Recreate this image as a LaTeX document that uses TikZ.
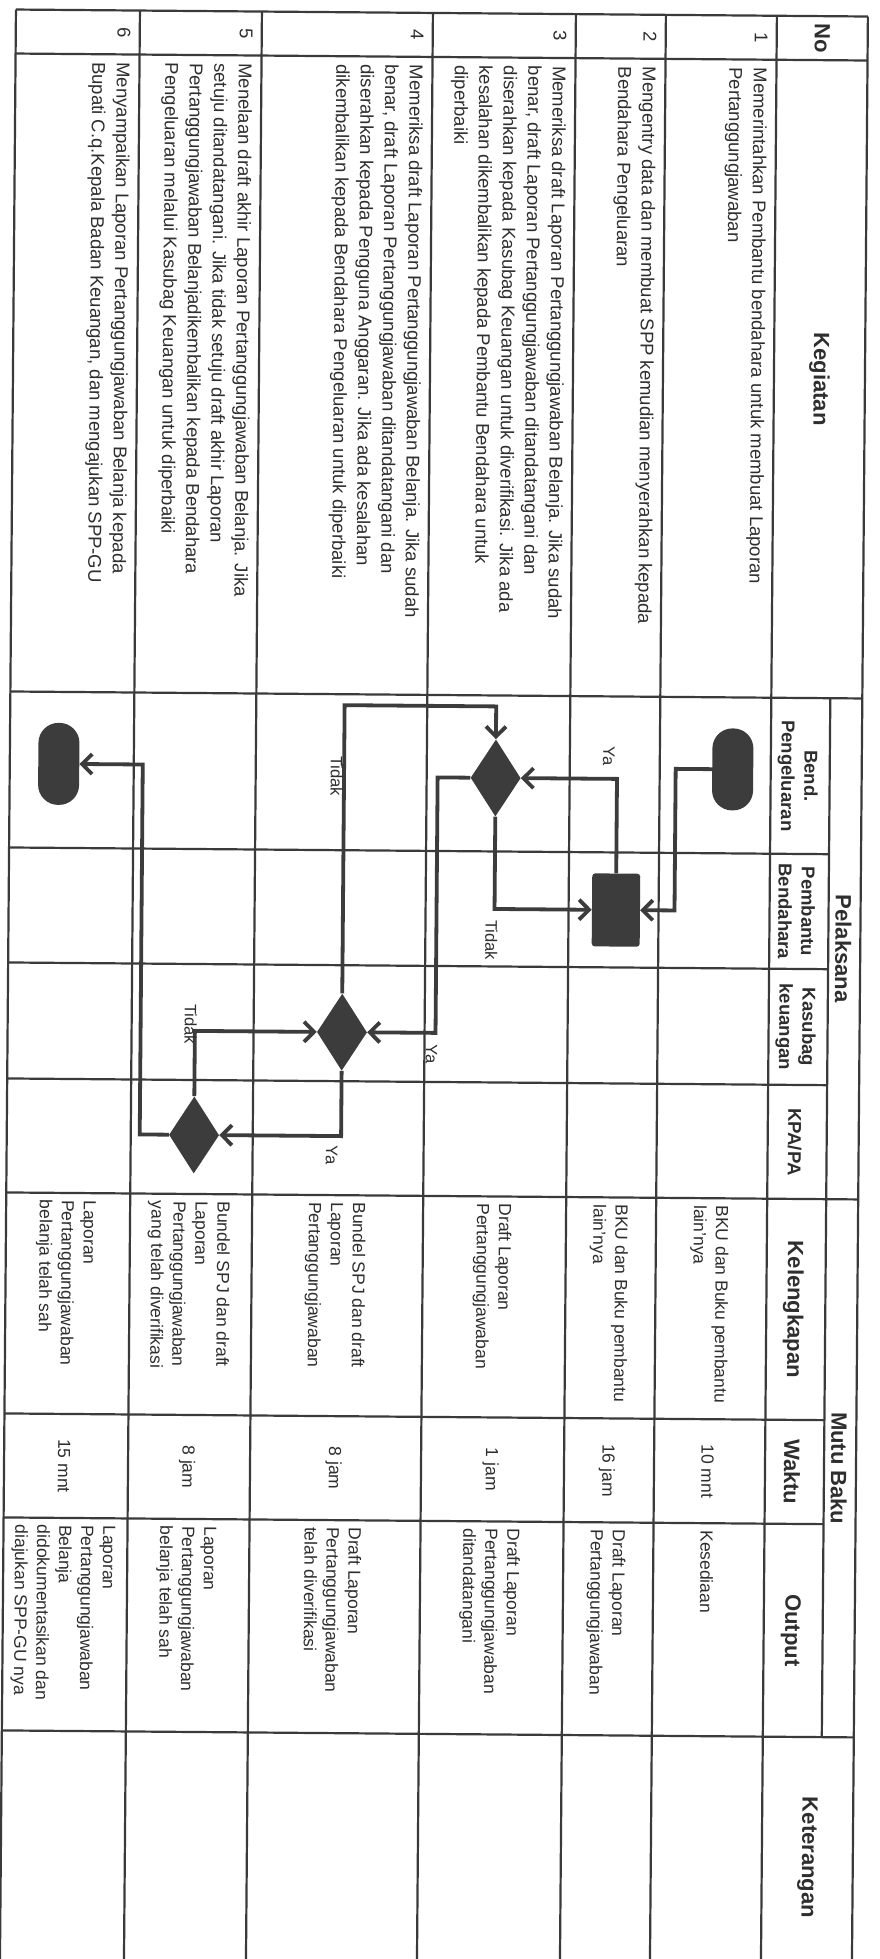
\documentclass[tikz,border=0pt]{standalone}
\usepackage{fontspec}
\setmainfont{Liberation Sans}
\usetikzlibrary{shapes.geometric,arrows.meta}
\definecolor{ink}{HTML}{2E2E2E}
\definecolor{rule}{HTML}{3A3A3A}
\definecolor{blob}{HTML}{3C3C3C}
\begin{document}
\begin{tikzpicture}[x=1pt,y=1pt,
  tabline/.style={line width=2.2pt, draw=rule},
  kegtext/.style={rotate=-90, anchor=north west, inner sep=0pt, align=left, text=ink, font=\fontsize{18.5}{24.5}\selectfont},
  mututext/.style={rotate=-90, anchor=west, inner sep=0pt, align=left, text=ink, font=\fontsize{17.5}{22}\selectfont},
  waktutext/.style={rotate=-90, anchor=center, inner sep=0pt, text=ink, font=\fontsize{17.5}{22}\selectfont},
  numtext/.style={rotate=-90, anchor=north, inner sep=0pt, text=ink, font=\fontsize{18.5}{24.5}\selectfont},
  head/.style={rotate=-90, anchor=center, inner sep=0pt, align=center, text=ink, font=\bfseries\fontsize{22}{26}\selectfont},
  subhead/.style={rotate=-90, anchor=center, inner sep=0pt, align=center, text=ink, font=\bfseries\fontsize{18.5}{23}\selectfont},
  lbl/.style={rotate=-90, anchor=center, inner sep=0pt, text=ink, font=\fontsize{16.5}{20}\selectfont},
  terminal/.style={rectangle, rounded corners=20pt, fill=blob, draw=none, minimum width=41pt, minimum height=82pt, inner sep=0pt},
  process/.style={rectangle, rounded corners=3pt, fill=blob, draw=none, minimum width=48pt, minimum height=73pt, inner sep=0pt},
  decision/.style={diamond, fill=blob, draw=none, minimum width=50pt, minimum height=77pt, inner sep=0pt},
  flow/.style={line width=3.8pt, draw=blob, -{Straight Barb[length=10pt,width=20pt]}}
]
\useasboundingbox[fill=white] (0,0) rectangle (879,-1959);
\begin{scope}[rotate around={-0.47:(440,-980)}, transform shape]
% ---------- table grid ----------
\foreach \x in {8,132,254,425,568,658,769,860}
  \draw[tabline] (\x,-13) -- (\x,-1975);
\foreach \y in {13,57,695,1196,1734,1975}
  \draw[tabline] (8,-\y) -- (860,-\y);
\foreach \y in {851,966,1082,1417,1521}
  \draw[tabline] (8,-\y) -- (828,-\y);
\draw[tabline] (828,-695) -- (828,-1734);

% ---------- headers ----------
\node[head] (hNo) at (814.5,-35) {No};
\node[head] (hKeg) at (814.5,-376) {Kegiatan};
\node[head] (hPel) at (843,-945.5) {Pelaksana};
\node[subhead] (hBend) at (796,-773) {Bend.\\Pengeluaran};
\node[subhead] (hPemb) at (796,-908.5) {Pembantu\\Bendahara};
\node[subhead] (hKas) at (796,-1024) {Kasubag\\keuangan};
\node[subhead] (hKpa) at (796,-1139) {KPA/PA};
\node[head] (hMutu) at (843,-1465) {Mutu Baku};
\node[head] (hKel) at (796,-1306.5) {Kelengkapan};
\node[head] (hWak) at (796,-1469) {Waktu};
\node[head] (hOut) at (796,-1627.5) {Output};
\node[head] (hKet) at (814.5,-1854.5) {Keterangan};

% ---------- numbers ----------
\node[numtext] (n1) at (760,-35) {1};
\node[numtext] (n2) at (649,-35) {2};
\node[numtext] (n3) at (559,-35) {3};
\node[numtext] (n4) at (416,-35) {4};
\node[numtext] (n5) at (245,-35) {5};
\node[numtext] (n6) at (123,-35) {6};

% ---------- kegiatan ----------
\node[kegtext] (k1t) at (760,-65) {Memerintahkan Pembantu bendahara untuk membuat Laporan\\Pertanggungjawaban};
\node[kegtext] (k2t) at (649,-65) {Mengentry data dan membuat SPP kemudian menyerahkan kepada\\Bendahara Pengeluaran};
\node[kegtext] (k3t) at (559,-65) {Memeriksa draft Laporan Pertanggungjawaban Belanja. Jika sudah\\benar, draft Laporan Pertanggungjawaban ditandatangani dan\\diserahkan kepada Kasubag Keuangan untuk diverifikasi. Jika ada\\kesalahan dikembalikan kepada Pembantu Bendahara untuk\\diperbaiki};
\node[kegtext] (k4t) at (416,-65) {Memeriksa draft Laporan Pertanggungjawaban Belanja. Jika sudah\\benar, draft Laporan Pertanggungjawaban ditandatangani dan\\diserahkan kepada Pengguna Anggaran. Jika ada kesalahan\\dikembalikan kepada Bendahara Pengeluaran untuk diperbaiki};
\node[kegtext] (k5t) at (245,-65) {Menelaan draft akhir Laporan Pertanggungjawaban Belanja. Jika\\setuju ditandatangani. Jika tidak setuju draft akhir Laporan\\Pertanggungjawaban Belanjadikembalikan kepada Bendahara\\Pengeluaran melalui Kasubag Keuangan untuk diperbaiki};
\node[kegtext] (k6t) at (123,-65) {Menyampaikan Laporan Pertanggungjawaban Belanja kepada\\Bupati C.q.Kepala Badan Keuangan, dan mengajukan SPP-GU};

% ---------- kelengkapan ----------
\node[mututext] (l1t) at (711.5,-1203) {BKU dan Buku pembantu\\lain'nya};
\node[mututext] (l2t) at (611,-1203) {BKU dan Buku pembantu\\lain'nya};
\node[mututext] (l3t) at (494.5,-1203) {Draft Laporan\\Pertanggungjawaban};
\node[mututext] (l4t) at (337.5,-1203) {Bundel SPJ dan draft\\Laporan\\Pertanggungjawaban};
\node[mututext] (l5t) at (191,-1203) {Bundel SPJ dan draft\\Laporan\\Pertanggungjawaban\\yang telah diverifikasi};
\node[mututext] (l6t) at (68,-1203) {Laporan\\Pertanggungjawaban\\belanja telah sah};

% ---------- waktu ----------
\node[waktutext] (w1t) at (711.5,-1469) {10 mnt};
\node[waktutext] (w2t) at (611,-1469) {16 jam};
\node[waktutext] (w3t) at (494.5,-1469) {1 jam};
\node[waktutext] (w4t) at (337.5,-1469) {8 jam};
\node[waktutext] (w5t) at (191,-1469) {8 jam};
\node[waktutext] (w6t) at (68,-1469) {15 mnt};

% ---------- output ----------
\node[mututext] (o1t) at (711.5,-1528) {Kesediaan};
\node[mututext] (o2t) at (611,-1528) {Draft Laporan\\Pertanggungjawaban};
\node[mututext] (o3t) at (494.5,-1528) {Draft Laporan\\Pertanggungjawaban\\ditandatangani};
\node[mututext] (o4t) at (337.5,-1528) {Draft Laporan\\Pertanggungjawaban\\telah diverifikasi};
\node[mututext] (o5t) at (191,-1528) {Laporan\\Pertanggungjawaban\\belanja telah sah};
\node[mututext] (o6t) at (68,-1528) {Laporan\\Pertanggungjawaban\\Belanja\\didokumentasikan dan\\diajukan SPP-GU nya};

% ---------- flow ----------
\node[terminal] (start) at (731,-767) {};
\node[process] (box) at (615.4,-908.6) {};
\node[decision] (d1) at (494,-777.5) {};
\node[decision] (d2) at (342.4,-1033) {};
\node[decision] (d3) at (195.3,-1137) {};
\node[terminal] (end) at (57,-767) {};

\coordinate (k1) at (674,-767);
\coordinate (k2) at (342.4,-706);
\coordinate (k3) at (436,-777.5);
\coordinate (k4) at (141,-1137);

\draw[flow] (start.west) -- (k1) |- (box.east);
\draw[flow] (box.north) |- (d1.east);
\draw[flow] (d1.south) |- (box.west);
\draw[flow] (d2.north) -- (k2) -| (d1.north);
\draw[flow] (d1.west) -- (k3) |- (d2.east);
\draw[flow] (d3.north) |- (d2.west);
\draw[flow] (d2.south) |- (d3.east);
\draw[flow] (d3.west) -- (k4) |- (end.east);

\node[lbl] (ya1) at (607,-755) {Ya};
\node[lbl] (td1) at (491,-940) {Tidak};
\node[lbl] (td2) at (335,-777) {Tidak};
\node[lbl] (ya2) at (432,-1054) {Ya};
\node[lbl] (td3) at (191,-1026) {Tidak};
\node[lbl] (ya3) at (333,-1156) {Ya};
\end{scope}
\end{tikzpicture}
\end{document}
